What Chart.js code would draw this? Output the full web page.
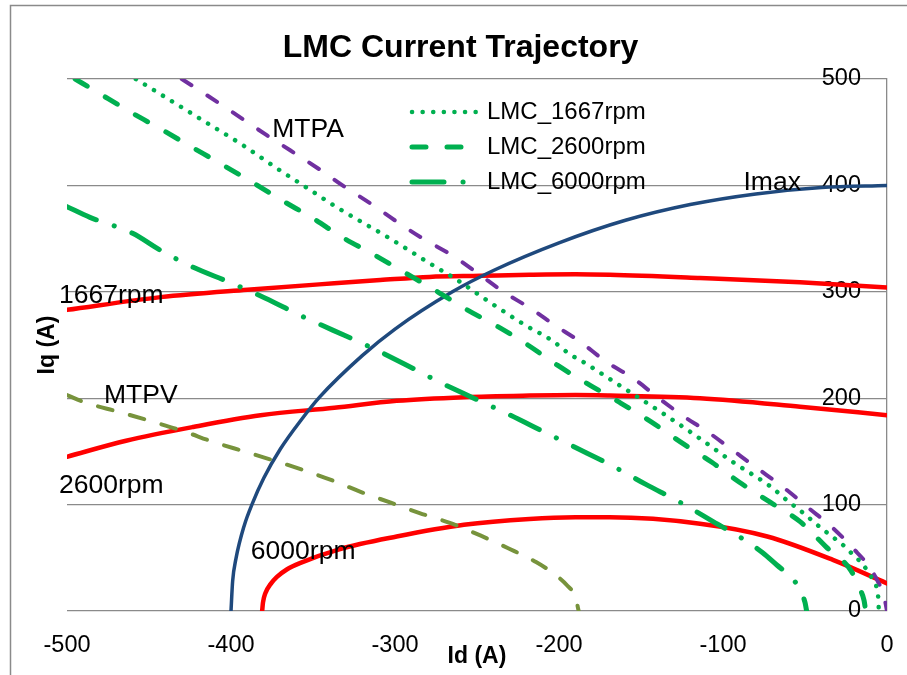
<!DOCTYPE html>
<html>
<head>
<meta charset="utf-8">
<script src="https://cdn.jsdelivr.net/npm/chart.js@4.4.1/dist/chart.umd.min.js"></script>
<style>
html,body{margin:0;padding:0;background:#fff;}
#wrap{width:907px;height:675px;position:relative;}
</style>
</head>
<body>
<div id="wrap"><canvas id="c" width="907" height="675"></canvas></div>
<script>
// ---- axis ticks ----
const xTicks = [-500, -400, -300, -200, -100, 0];
const yTicks = [0, 100, 200, 300, 400, 500];

// ---- series (Id, Iq) ----
const imaxX = [-400, -399, -397, -392, -387, -380, -370, -357, -346, -320, -300, -265, -240, -200, -160, -120, -80, -40, 0];
const imaxY = [0, 28, 49, 80, 101, 125, 152, 180, 201, 240, 265, 300, 320, 346, 367, 382, 392, 398, 400];

const mtpaX = [-430, -408, -378, -346, -332, -315, -299, -283, -266, -250, -234, -218, -201, -187, -171, -155, -140, -125, -109, -94, -79, -63, -48, -33, -19.5, -13, -8.5, -5, -2.5, -1, 0];
const mtpaY = [500, 478, 447, 415, 400, 383, 366, 350, 335, 318, 300, 285, 267, 253, 234, 219, 201, 184, 168, 151, 134, 116, 97, 78, 57, 46, 36, 26, 17, 8, 0];

const lmc1667X = [-458, -437, -415, -393, -372, -356, -335, -303, -277, -263, -242, -221, -204, -194, -183, -172, -156, -134, -114, -93, -71, -61, -51, -46, -41, -36, -30.7, -25.6, -20.6, -15.4, -11.6, -8.5, -6, -5.2, -5];
const lmc1667Y = [500, 480, 459, 438, 416, 400, 379, 350, 325, 312, 290, 269, 254, 242, 232, 221, 205, 183, 162, 139, 117, 104, 92, 85.5, 79, 73, 66.7, 60.4, 52.6, 45, 37, 29, 19.7, 9, 0];

const lmc2600X = [-495, -482, -458, -444, -425, -407, -387, -369, -350, -333, -313, -294, -274, -256, -237, -219, -201, -182, -163, -144, -126, -107, -90, -71, -53, -37, -22, -17, -14, -13];
const lmc2600Y = [500, 488, 466, 454, 437, 421, 403, 386, 369, 352, 335, 318, 300, 283, 267, 250, 231, 213, 196, 178, 159, 140, 121, 102, 84, 60, 38, 22, 10, 0];

const lmc6000X = [-500, -486, -460, -443, -423, -401, -379, -358, -338, -315, -294, -274, -252, -231, -210, -189, -167, -147, -126, -106, -86, -76, -67, -58, -53, -50, -49];
const lmc6000Y = [380, 370, 355, 339, 323, 309, 294, 278, 264, 248, 232, 216, 200, 185, 169, 153, 136, 119, 102, 84, 66, 55, 43, 31, 20, 8, 0];

const mtpvX = [-500, -489, -468, -448, -429, -411, -392, -373, -355, -337, -321, -303, -285, -267, -248, -231, -214, -204, -195, -190, -188];
const mtpvY = [203, 196, 187, 178, 169, 159, 150, 141, 132, 122, 112, 102, 92, 83, 71, 59, 46, 36, 24, 13, 0];

const v1667X = [-500, -443, -390, -337, -309, -279, -248, -218, -190, -169, -114, -53, 0];
const v1667Y = [283, 295, 302, 308, 311, 314, 315, 316, 316.5, 316, 313, 309, 304];

const v2600X = [-500, -464, -423, -382, -337, -299, -258, -218, -190, -169, -114, -53, 0];
const v2600Y = [145, 160, 173, 184, 191, 197.5, 201, 202.5, 203, 202.5, 200, 192, 184];

const v6000X = [-381, -380.5, -379, -376, -372, -366, -358, -334, -299, -258, -218, -190, -169, -114, -73, -33, 0];
const v6000Y = [0, 8, 17, 25, 32, 39, 45, 58, 70, 81, 86.5, 88, 88, 82, 70, 48, 26];

// ---- in-plot text labels (anchored at data coordinates) ----
const noteText = ['MTPA', 'Imax', '1667rpm', 'MTPV', '2600rpm', '6000rpm'];
const noteX = [-353, -70, -473, -455, -473, -356];
const noteY = [452, 403, 296, 202, 118, 56];

const legendNames = ['LMC_1667rpm', 'LMC_2600rpm', 'LMC_6000rpm'];

const FONT = '"Liberation Sans", Arial, sans-serif';

function pts(xs, ys) { return xs.map((x, i) => ({x: x, y: ys[i]})); }
function ser(label, xs, ys, color, width, dash) {
  return {
    label: label, data: pts(xs, ys), borderColor: color, backgroundColor: color,
    borderWidth: width, borderDash: dash, borderCapStyle: 'round', borderJoinStyle: 'round',
    showLine: true, pointRadius: 0, pointHoverRadius: 0, fill: false,
    cubicInterpolationMode: 'monotone', xAxisID: 'x', yAxisID: 'y'
  };
}

const GREEN = '#00B050';
const datasets = [
  ser(legendNames[0], lmc1667X, lmc1667Y, GREEN, 4.5, [0.1, 10.5]),
  ser(legendNames[1], lmc2600X, lmc2600Y, GREEN, 5, [14, 21]),
  ser(legendNames[2], lmc6000X, lmc6000Y, GREEN, 5, [32, 19, 0.1, 19]),
  ser('MTPA', mtpaX, mtpaY, '#7030A0', 4, [11.5, 19]),
  ser('MTPV', mtpvX, mtpvY, '#77933C', 4, [15, 18]),
  ser('Imax', imaxX, imaxY, '#1F497D', 3.5, []),
  ser('1667rpm', v1667X, v1667Y, '#FF0000', 4.5, []),
  ser('2600rpm', v2600X, v2600Y, '#FF0000', 4.5, []),
  ser('6000rpm', v6000X, v6000Y, '#FF0000', 4.5, [])
];

const framePlugin = {
  id: 'frame',
  beforeDraw(chart) {
    const ctx = chart.ctx;
    ctx.save();
    ctx.fillStyle = '#ffffff';
    ctx.fillRect(0, 0, chart.width, chart.height);
    ctx.strokeStyle = '#8a8a8a';
    ctx.lineWidth = 1.5;
    ctx.strokeRect(10.5, 5.5, 2000, 2000);
    ctx.restore();
  }
};

const notesPlugin = {
  id: 'notes',
  afterDatasetsDraw(chart) {
    const ctx = chart.ctx;
    const xs = chart.scales.x, ys = chart.scales.y;
    ctx.save();
    ctx.fillStyle = '#000';
    ctx.font = '26.5px ' + FONT;
    ctx.textAlign = 'center';
    ctx.textBaseline = 'middle';
    noteText.forEach((t, i) => {
      ctx.fillText(t, xs.getPixelForValue(noteX[i]), ys.getPixelForValue(noteY[i]));
    });
    // legend
    const lx0 = 412, lx1 = 476, tx = 487, rowY = [112, 147, 182];
    for (let i = 0; i < 3; i++) {
      const ds = chart.data.datasets[i];
      ctx.beginPath();
      ctx.setLineDash(ds.borderDash);
      ctx.lineCap = 'round';
      ctx.lineWidth = ds.borderWidth;
      ctx.strokeStyle = ds.borderColor;
      ctx.moveTo(lx0, rowY[i]);
      ctx.lineTo(lx1, rowY[i]);
      ctx.stroke();
      ctx.setLineDash([]);
      ctx.font = '24px ' + FONT;
      ctx.textAlign = 'left';
      ctx.fillStyle = '#000';
      ctx.fillText(ds.label, tx, rowY[i]);
    }
    ctx.restore();
  }
};

new Chart(document.getElementById('c'), {
  type: 'scatter',
  data: { datasets: datasets },
  options: {
    responsive: false,
    animation: false,
    devicePixelRatio: 1,
    events: [],
    layout: { padding: { left: 34.2, right: 20, top: 0, bottom: 0 } },
    plugins: {
      legend: { display: false },
      tooltip: { enabled: false },
      title: {
        display: true, text: 'LMC Current Trajectory', color: '#000',
        font: { family: FONT, size: 32, weight: 'bold' },
        padding: { top: 29, bottom: 11.6 }
      }
    },
    scales: {
      x: {
        type: 'linear', position: 'bottom', min: -500, max: 0,
        afterBuildTicks: s => { s.ticks = xTicks.map(v => ({value: v})); },
        afterFit: s => { s.height = 64; s.paddingRight = 0; s.paddingLeft = 0; },
        ticks: { color: '#000', font: { family: FONT, size: 23.5 }, padding: 20, maxRotation: 0, autoSkip: false },
        grid: { display: false, drawTicks: false },
        border: { display: false },
        title: { display: true, text: 'Id (A)', color: '#000', font: { family: FONT, size: 23, weight: 'bold' }, padding: { top: 0, bottom: 4.2 } }
      },
      y: {
        type: 'linear', position: 'right', min: 0, max: 500,
        afterBuildTicks: s => { s.ticks = yTicks.map(v => ({value: v})); },
        afterFit: s => { s.width = 0; },
        ticks: { color: '#000', font: { family: FONT, size: 23.5 }, mirror: true, padding: -26 },
        grid: { color: '#8a8a8a', lineWidth: 1.3, drawTicks: false },
        border: { display: true, color: '#8a8a8a', width: 1.3 }
      },
      yl: {
        type: 'linear', position: 'left', min: 0, max: 500,
        afterFit: s => { s.width = 32.8; },
        ticks: { display: false },
        grid: { display: false, drawTicks: false },
        border: { display: false },
        title: { display: true, text: 'Iq (A)', color: '#000', font: { family: FONT, size: 23, weight: 'bold' }, padding: { top: 0, bottom: 5.2 } }
      }
    }
  },
  plugins: [framePlugin, notesPlugin]
});
</script>
</body>
</html>
